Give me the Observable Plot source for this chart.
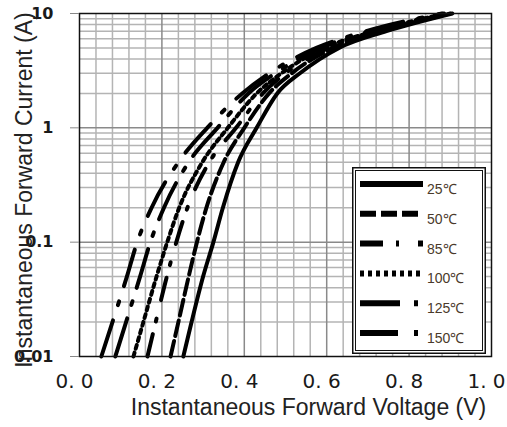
<!DOCTYPE html>
<html><head><meta charset="utf-8">
<script src="https://cdn.jsdelivr.net/npm/d3@7"></script>
<script src="https://cdn.jsdelivr.net/npm/@observablehq/plot@0.6"></script>
<style>
body{margin:0;background:#fff;}
#wrap{position:relative;width:507px;height:427px;overflow:hidden;}
#legend{position:absolute;left:352px;top:167px;}
</style></head><body><div id="wrap"></div>
<script>
// ---- data ----
const seriesNames = ["25℃","50℃","85℃","100℃","125℃","150℃"];
const currents = [0.01,0.02,0.05,0.1,0.2,0.5,1,2,3,5,7,10];
const v25  = [0.252,0.272,0.300,0.325,0.348,0.385,0.430,0.480,0.535,0.630,0.745,0.905];
const v50  = [0.221,0.240,0.265,0.285,0.308,0.350,0.400,0.460,0.515,0.615,0.735,0.900];
const v85  = [0.165,0.185,0.212,0.235,0.262,0.315,0.380,0.445,0.500,0.605,0.725,0.895];
const v100 = [0.131,0.155,0.187,0.213,0.242,0.298,0.360,0.430,0.490,0.595,0.715,0.890];
const v125 = [0.087,0.113,0.147,0.172,0.205,0.265,0.335,0.410,0.475,0.585,0.705,0.885];
const v150 = [0.053,0.080,0.115,0.140,0.175,0.240,0.310,0.395,0.460,0.575,0.695,0.880];
const xTicks = [0,0.2,0.4,0.6,0.8,1.0];
const yTicks = [0.01,0.1,1,10];
const xLabel = "Instantaneous Forward Voltage (V)";
const yLabel = "Instantaneous Forward Current (A)";

// ---- styles ----
const dashes = ["none","16,5","23,13,3,19","4,4","40,14,4,14","38,16,4,16"];

const volts = [v25,v50,v85,v100,v125,v150];
const rows = [];
seriesNames.forEach((s,i)=>currents.forEach((c,j)=>rows.push({series:s,I:c,V:volts[i][j]})));

const xMinor = d3.range(1,25).map(i=>+(i*0.04).toFixed(2)).filter((d,i)=>(i+1)%5!==0);
const xMajor = [0.2,0.4,0.6,0.8];
const yMinor = [0.01,0.1,1].flatMap(d=>d3.range(2,10).map(k=>+(d*k).toPrecision(2)));
const yMajor = [0.1,1];

const lineMarks = seriesNames.map((s,i)=>Plot.line(rows.filter(r=>r.series===s),{
  x:"V", y:"I", stroke:"#000", strokeWidth:4, strokeDasharray:dashes[i], curve:"monotone-x"
}));

const chart = Plot.plot({
  width:507, height:427,
  marginLeft:79, marginRight:16, marginTop:13, marginBottom:71,
  x:{domain:[0,1], label:null},
  y:{type:"log", domain:[0.01,10], label:null},
  style:{fontFamily:"Liberation Sans", background:"#fff", color:"#1a1a1a"},
  marks:[
    Plot.ruleX(xMinor,{stroke:"#b4b4b4", strokeWidth:1.5}),
    Plot.ruleY(yMinor,{stroke:"#b4b4b4", strokeWidth:1.5}),
    Plot.ruleX(xMajor,{stroke:"#8a8a8a", strokeWidth:1.5}),
    Plot.ruleY(yMajor,{stroke:"#8a8a8a", strokeWidth:1.5}),
    ...lineMarks,
    Plot.frame({stroke:"#111", strokeWidth:1.5}),
    Plot.axisY({ticks:yTicks, tickSize:9, tickPadding:17, tickFormat:d=>String(d),
      fontSize:16, fontWeight:"bold", fontFamily:"DejaVu Sans", stroke:"#888"}),
    Plot.axisX({ticks:xTicks, tickSize:0, tickPadding:17, tickFormat:d=>d.toFixed(1).replace(".",". "),
      fontSize:20, fontFamily:"DejaVu Sans", dx:-5}),
    Plot.text([xLabel],{text:d=>d, frameAnchor:"bottom", textAnchor:"middle", dy:58, dx:23, fontSize:23, fill:"#222"}),
    Plot.text([yLabel],{text:d=>d, frameAnchor:"left", textAnchor:"middle", rotate:-90, dx:-55, dy:5, fontSize:23, fill:"#222"})
  ]
});
document.getElementById("wrap").appendChild(chart);

// ---- legend overlay ----
const lw = 134, lh = 187;
const leg = d3.select("#wrap").append("svg").attr("id","legend").attr("width",lw).attr("height",lh);
leg.append("rect").attr("x",0.75).attr("y",0.75).attr("width",lw-1.5).attr("height",lh-1.5)
  .attr("fill","#fff").attr("stroke","#111").attr("stroke-width",1.5);
leg.append("rect").attr("x",3.5).attr("y",3.5).attr("width",lw-7).attr("height",lh-7)
  .attr("fill","none").attr("stroke","#111").attr("stroke-width",1);
const rowY = d3.scalePoint().domain(seriesNames).range([17,166]);
const g = leg.selectAll("g.item").data(seriesNames).join("g").attr("class","item")
  .attr("transform",d=>`translate(0,${rowY(d)})`);
g.append("line").attr("x1",8).attr("x2",71).attr("y1",0).attr("y2",0)
  .attr("stroke","#000").attr("stroke-width",6).attr("stroke-dasharray",(d,i)=>dashes[i]);
g.append("text").attr("x",75).attr("y",10).text(d=>d)
  .attr("font-family","Liberation Sans").attr("font-size",14).attr("fill","#4a3a2a");
</script></body></html>
